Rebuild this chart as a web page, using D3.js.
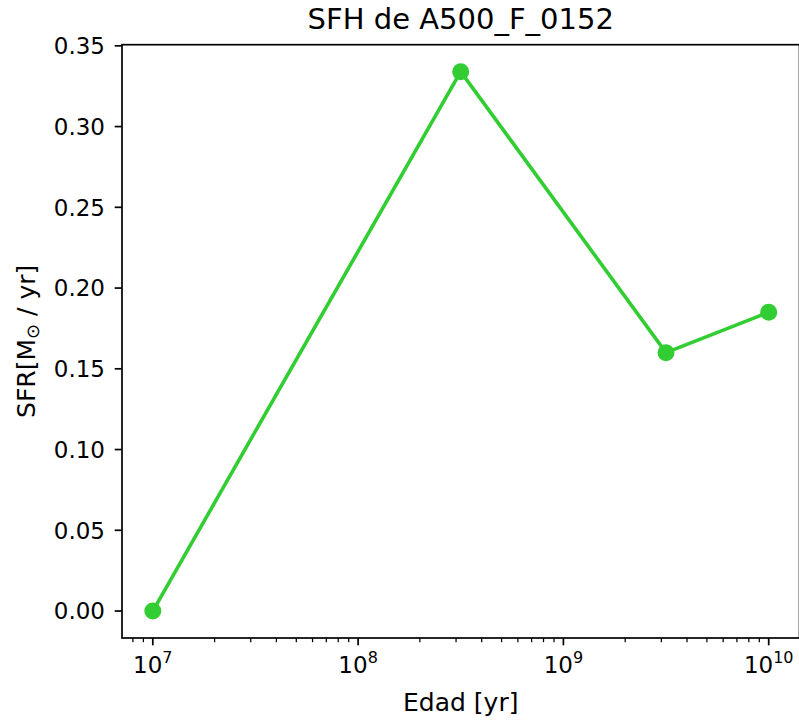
<!DOCTYPE html>
<html>
<head>
<meta charset="utf-8">
<script src="https://cdn.jsdelivr.net/npm/d3@7"></script>
<style>
  html, body { margin: 0; padding: 0; background: #fff; }
  svg { display: block; font-family: "DejaVu Sans", sans-serif; }
</style>
</head>
<body>
<svg id="chart" width="799" height="721"></svg>
<script>
// Star formation history of A500_F_0152
const ages = [1e7, 3.16e8, 3.16e9, 1e10];        // Edad [yr]
const sfr = [0.0, 0.334, 0.160, 0.185];          // SFR [M_sun / yr]
const yTicks = [0.00, 0.05, 0.10, 0.15, 0.20, 0.25, 0.30, 0.35];
const xMajorExps = [7, 8, 9, 10];
const titleText = "SFH de A500_F_0152";
const xLabelText = "Edad [yr]";

const W = 799, H = 721;
const plot = { left: 122, right: 799.5, top: 44.7, bottom: 638 };

const svg = d3.select("#chart");
svg.append("rect").attr("width", W).attr("height", H).attr("fill", "#fff");

// log-x with 5% margins in log space, linear y with 5% margins
const lx0 = Math.log10(d3.min(ages)), lx1 = Math.log10(d3.max(ages));
const lxPad = (lx1 - lx0) * 0.05;
const x = d3.scaleLog()
  .domain([Math.pow(10, lx0 - lxPad), Math.pow(10, lx1 + lxPad)])
  .range([plot.left, plot.right]);

const yMin = d3.min(sfr), yMax = d3.max(sfr);
const yPad = (yMax - yMin) * 0.05;
const y = d3.scaleLinear()
  .domain([yMin - yPad, yMax + yPad])
  .range([plot.bottom, plot.top]);

const green = "#32cd32";
const tickColor = "#000";

// x axis: major ticks with 10^n labels
const xAxisG = svg.append("g");
xMajorExps.forEach(e => {
  const px = x(Math.pow(10, e));
  xAxisG.append("line")
    .attr("x1", px).attr("x2", px)
    .attr("y1", plot.bottom).attr("y2", plot.bottom + 7.3)
    .attr("stroke", tickColor).attr("stroke-width", 1.7);
  const t = xAxisG.append("text")
    .attr("x", px).attr("y", plot.bottom + 35)
    .attr("text-anchor", "middle")
    .attr("font-size", 23);
  t.append("tspan").text("10");
  t.append("tspan").attr("font-size", 16).attr("dy", -10).text(String(e));
});

// x axis: minor ticks (2..9 x 10^n) inside the domain
const [dx0, dx1] = x.domain();
const minorTicks = [];
for (let e = Math.floor(Math.log10(dx0)); e <= Math.ceil(Math.log10(dx1)); e++) {
  for (let k = 2; k <= 9; k++) {
    const v = k * Math.pow(10, e);
    if (v >= dx0 && v <= dx1) minorTicks.push(v);
  }
}
xAxisG.selectAll("line.minor")
  .data(minorTicks)
  .join("line")
  .attr("class", "minor")
  .attr("x1", d => x(d)).attr("x2", d => x(d))
  .attr("y1", plot.bottom).attr("y2", plot.bottom + 4.2)
  .attr("stroke", tickColor).attr("stroke-width", 1.25);

// y axis
const yAxisG = svg.append("g");
yAxisG.selectAll("line")
  .data(yTicks)
  .join("line")
  .attr("x1", plot.left - 7.3).attr("x2", plot.left)
  .attr("y1", d => y(d)).attr("y2", d => y(d))
  .attr("stroke", tickColor).attr("stroke-width", 1.7);
yAxisG.selectAll("text")
  .data(yTicks)
  .join("text")
  .attr("x", plot.left - 17)
  .attr("y", d => y(d))
  .attr("dy", "0.36em")
  .attr("text-anchor", "end")
  .attr("font-size", 23)
  .text(d => d.toFixed(2));

// data line and markers
const line = d3.line()
  .x((d, i) => x(ages[i]))
  .y(d => y(d));
svg.append("path")
  .datum(sfr)
  .attr("d", line)
  .attr("fill", "none")
  .attr("stroke", green)
  .attr("stroke-width", 3.6)
  .attr("stroke-linejoin", "round");
svg.selectAll("circle.pt")
  .data(sfr)
  .join("circle")
  .attr("class", "pt")
  .attr("cx", (d, i) => x(ages[i]))
  .attr("cy", d => y(d))
  .attr("r", 8.5)
  .attr("fill", green);

// frame
svg.append("rect")
  .attr("x", plot.left).attr("y", plot.top)
  .attr("width", plot.right - plot.left)
  .attr("height", plot.bottom - plot.top)
  .attr("fill", "none")
  .attr("stroke", "#000")
  .attr("stroke-width", 1.7);

// title and axis labels
const cx = (plot.left + plot.right) / 2;
svg.append("text")
  .attr("x", cx).attr("y", 29)
  .attr("text-anchor", "middle")
  .attr("font-size", 29)
  .text(titleText);

svg.append("text")
  .attr("x", cx).attr("y", 711)
  .attr("text-anchor", "middle")
  .attr("font-size", 25)
  .text(xLabelText);

const yl = svg.append("text")
  .attr("transform", `translate(35, ${(plot.top + plot.bottom) / 2}) rotate(-90)`)
  .attr("text-anchor", "middle")
  .attr("font-size", 25);
yl.append("tspan").text("SFR[M");
yl.append("tspan").attr("font-size", 18).attr("dy", 4).text("\u2299");
yl.append("tspan").attr("dy", -4).text(" / yr]");
</script>
</body>
</html>
